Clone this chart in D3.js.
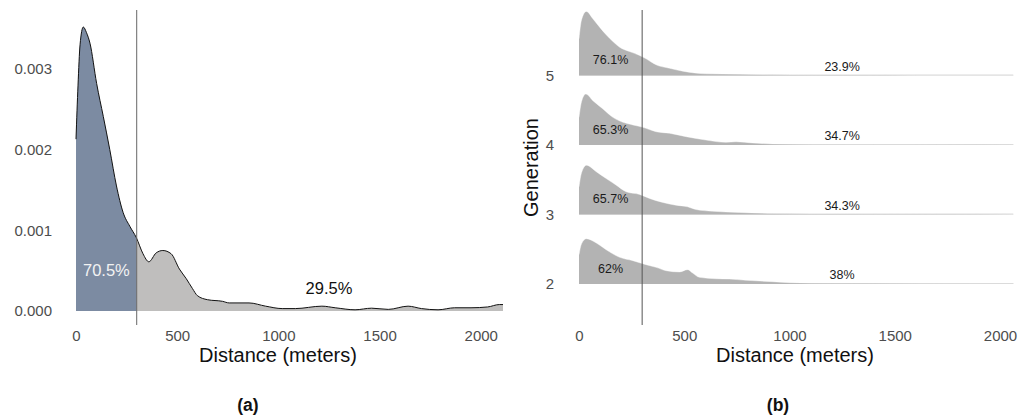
<!DOCTYPE html>
<html><head><meta charset="utf-8">
<script src="https://cdn.jsdelivr.net/npm/d3@7"></script>
<style>
html,body{margin:0;padding:0;background:#fff;}
text{font-family:"Liberation Sans",Arial,Helvetica,sans-serif;}
</style></head>
<body><svg id="c" width="1021" height="418"></svg>
<script>
// ---------- data ----------
// Panel (a): overall density of distance
const distA = [0,10,20,36,52,69,102,135,167,200,233,266,298,331,360,396,429,470,511,545,575,600,650,724,757,855,937,1019,1084,1215,1281,1379,1461,1543,1641,1707,1789,1871,1952,2034,2092,2110];
const densA = [2.13,2.8,3.3,3.52,3.45,3.32,2.82,2.41,2.0,1.55,1.22,1.05,0.91,0.71,0.61,0.72,0.75,0.71,0.52,0.4,0.28,0.19,0.14,0.12,0.10,0.10,0.06,0.03,0.03,0.06,0.04,0.015,0.035,0.02,0.06,0.03,0.015,0.04,0.04,0.05,0.08,0.08].map(v=>v/1000);
const yTicksA = [0,0.001,0.002,0.003];
const xTicks = [0,500,1000,1500,2000];
const cutoff = 300;
const pctA = ["70.5%","29.5%"];

// Panel (b): density by generation (ridgeline)
const generations = [5,4,3,2];
const gen5Dist = [0,12,35,66,98,129,161,193,240,288,319,366,430,493,603,761,919,1100,1300,1600,2063];
const gen5Dens = [2.38,3.6,4.15,3.67,3.13,2.64,2.20,1.83,1.55,1.30,1.08,0.69,0.47,0.28,0.11,0.084,0.045,0.03,0.025,0.02,0.02];
const gen4Dist = [0,12,32,66,114,161,209,256,303,366,430,509,603,698,746,825,919,1100,1400,1700,2063];
const gen4Dens = [1.79,2.8,3.30,2.87,2.33,1.79,1.47,1.30,1.15,0.86,0.76,0.54,0.32,0.17,0.21,0.13,0.065,0.04,0.03,0.025,0.02];
const gen3Dist = [0,12,35,82,129,177,224,288,335,398,461,516,556,635,761,919,1100,1400,1700,2063];
const gen3Dens = [1.79,2.7,3.19,2.77,2.33,1.90,1.47,1.30,1.04,0.78,0.60,0.50,0.32,0.21,0.13,0.065,0.04,0.03,0.025,0.02];
const gen2Dist = [0,12,35,82,129,193,256,319,366,414,477,516,540,572,651,714,793,919,1000,1200,1600,2063];
const gen2Dens = [1.90,2.6,2.93,2.66,2.22,1.73,1.51,1.25,1.08,0.86,0.78,0.93,0.71,0.43,0.34,0.32,0.24,0.15,0.085,0.05,0.04,0.03];
const pctLeftB  = ["76.1%","65.3%","65.7%","62%"];
const pctRightB = ["23.9%","34.7%","34.3%","38%"];

// ---------- drawing ----------
const svg = d3.select("#c");
const tickCol = "#4d4d4d";
const fmtX = d3.format("d");

// ===== Panel (a) =====
const xA = d3.scaleLinear().domain([0,2110]).range([76,503]);
const yA = d3.scaleLinear().domain([0,0.003]).range([311,69]);
const ptsA = distA.map((d,i)=>({x:d,y:densA[i]}));
const areaA = d3.area().x(d=>xA(d.x)).y0(yA(0)).y1(d=>yA(d.y)).curve(d3.curveMonotoneX);
const lineA = d3.line().x(d=>xA(d.x)).y(d=>yA(d.y)).curve(d3.curveMonotoneX);

const defs = svg.append("defs");
defs.append("clipPath").attr("id","clipL").append("rect")
  .attr("x",xA(0)-1).attr("y",0).attr("width",xA(cutoff)-xA(0)+1).attr("height",418);
defs.append("clipPath").attr("id","clipR").append("rect")
  .attr("x",xA(cutoff)).attr("y",0).attr("width",xA(2110)-xA(cutoff)+1).attr("height",418);

const gA = svg.append("g");
gA.append("path").datum(ptsA).attr("d",areaA).attr("fill","#7c8ba2").attr("clip-path","url(#clipL)");
gA.append("path").datum(ptsA).attr("d",areaA).attr("fill","#bfbebd").attr("clip-path","url(#clipR)");
gA.append("path").datum(ptsA).attr("d",lineA).attr("fill","none").attr("stroke","#111").attr("stroke-width",1);
gA.append("line").attr("x1",xA(cutoff)).attr("x2",xA(cutoff)).attr("y1",10).attr("y2",325)
  .attr("stroke","#666").attr("stroke-width",1);

// axes (a)
const axYA = gA.append("g").attr("transform","translate(52,0)")
  .call(d3.axisLeft(yA).tickValues(yTicksA).tickFormat(d3.format(".3f")).tickSize(0).tickPadding(0));
const axXA = gA.append("g").attr("transform","translate(0,330)")
  .call(d3.axisBottom(xA).tickValues(xTicks).tickFormat(fmtX).tickSize(0).tickPadding(0));
[axYA,axXA].forEach(a=>{
  a.select(".domain").remove();
  a.selectAll("text").attr("fill",tickCol).style("font-size","15px")
   .style("font-family","'Liberation Sans',Arial,sans-serif");
});
axXA.selectAll("text").attr("dy","0.71em").attr("y",0);

gA.append("text").attr("x",xA(150)).attr("y",yA(0.0005)).attr("dy","0.35em")
  .attr("text-anchor","middle").attr("fill","#f2f2f2").style("font-size","16.5px").text(pctA[0]);
gA.append("text").attr("x",xA(1250)).attr("y",yA(0.00028)).attr("dy","0.35em")
  .attr("text-anchor","middle").attr("fill","#111").style("font-size","16.5px").text(pctA[1]);

gA.append("text").attr("x",278).attr("y",355).attr("dy","0.35em").attr("text-anchor","middle")
  .attr("fill","#111").style("font-size","20px").text("Distance (meters)");
gA.append("text").attr("x",248).attr("y",405).attr("dy","0.35em").attr("text-anchor","middle")
  .attr("fill","#111").style("font-size","17.5px").style("font-weight","bold").text("(a)");

// ===== Panel (b) =====
const xB = d3.scaleLinear().domain([0,2000]).range([579,1000]);
const yB = d3.scaleLinear().domain([2,5]).range([284,75.5]);
const hB = d3.scaleLinear().domain([0,0.0045]).range([0,69.5]);
const ridgeData = {
  5:{dist:gen5Dist,dens:gen5Dens},
  4:{dist:gen4Dist,dens:gen4Dens},
  3:{dist:gen3Dist,dens:gen3Dens},
  2:{dist:gen2Dist,dens:gen2Dens}
};
const gB = svg.append("g");
generations.forEach((g,gi)=>{
  const base = yB(g);
  const pts = ridgeData[g].dist.map((d,i)=>({x:d,y:ridgeData[g].dens[i]/1000}));
  const ar = d3.area().x(d=>xB(d.x)).y0(base).y1(d=>base-hB(d.y)).curve(d3.curveMonotoneX);
  const ln = d3.line().x(d=>xB(d.x)).y(d=>base-hB(d.y)).curve(d3.curveMonotoneX);
  const xEnd = d3.max(ridgeData[g].dist);
  gB.append("line").attr("x1",xB(0)).attr("x2",xB(xEnd)).attr("y1",base-0.5).attr("y2",base-0.5)
    .attr("stroke","#d4d4d4").attr("stroke-width",1);
  gB.append("path").datum(pts).attr("d",ar).attr("fill","#b3b3b3");
  gB.append("path").datum(pts).attr("d",ln).attr("fill","none").attr("stroke","#ffffff").attr("stroke-width",0.5).attr("stroke-opacity",0.8);
  gB.append("text").attr("x",xB(150)).attr("y",base-15.5).attr("dy","0.35em").attr("text-anchor","middle")
    .attr("fill","#1a1a1a").style("font-size","12.5px").text(pctLeftB[gi]);
  gB.append("text").attr("x",xB(1250)).attr("y",base-9).attr("dy","0.35em").attr("text-anchor","middle")
    .attr("fill","#1a1a1a").style("font-size","12.5px").text(pctRightB[gi]);
});
gB.append("line").attr("x1",xB(cutoff)).attr("x2",xB(cutoff)).attr("y1",10).attr("y2",325)
  .attr("stroke","#555").attr("stroke-width",1);

const axYB = gB.append("g").attr("transform","translate(554,0)")
  .call(d3.axisLeft(yB).tickValues(generations).tickFormat(d3.format("d")).tickSize(0).tickPadding(0));
const axXB = gB.append("g").attr("transform","translate(0,330)")
  .call(d3.axisBottom(xB).tickValues(xTicks).tickFormat(fmtX).tickSize(0).tickPadding(0));
[axYB,axXB].forEach(a=>{
  a.select(".domain").remove();
  a.selectAll("text").attr("fill",tickCol).style("font-size","15px")
   .style("font-family","'Liberation Sans',Arial,sans-serif");
});
axXB.selectAll("text").attr("dy","0.71em").attr("y",0);

gB.append("text").attr("transform","translate(531,167.5) rotate(-90)").attr("dy","0.35em")
  .attr("text-anchor","middle").attr("fill","#111").style("font-size","20px").text("Generation");
gB.append("text").attr("x",795).attr("y",355).attr("dy","0.35em").attr("text-anchor","middle")
  .attr("fill","#111").style("font-size","20px").text("Distance (meters)");
gB.append("text").attr("x",778).attr("y",405).attr("dy","0.35em").attr("text-anchor","middle")
  .attr("fill","#111").style("font-size","17.5px").style("font-weight","bold").text("(b)");
</script>
</body></html>
